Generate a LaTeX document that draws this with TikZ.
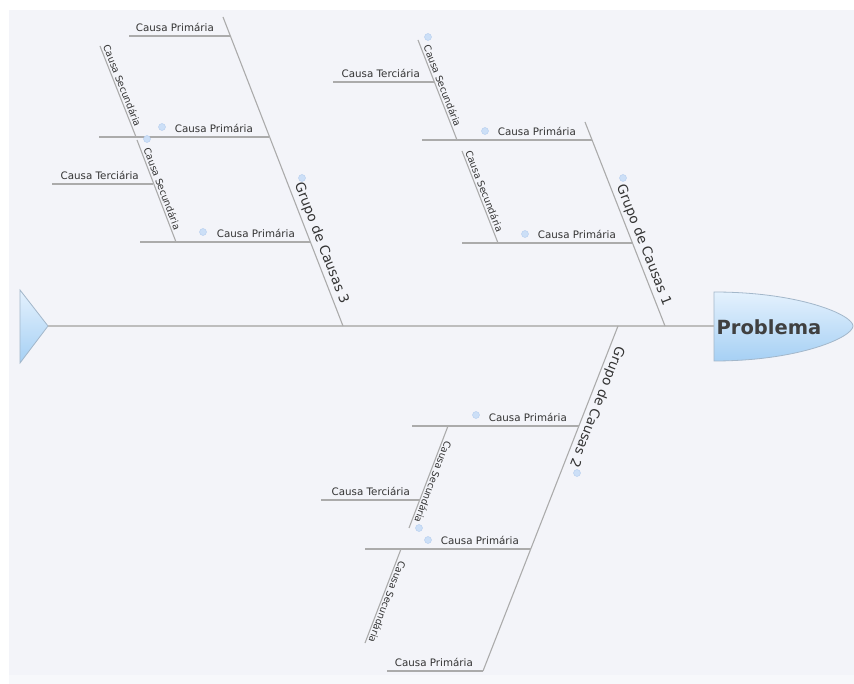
\documentclass[tikz,border=0pt]{standalone}
\usepackage{fontspec}
\setmainfont{DejaVu Sans}
\definecolor{bgc}{HTML}{F3F4F9}
\definecolor{bgstrip}{HTML}{F7F8FB}
\definecolor{linegray}{HTML}{ABABAB}
\definecolor{spinegray}{HTML}{BDBDBD}
\definecolor{txt}{HTML}{333333}
\definecolor{dotfill}{HTML}{CCDFF7}
\definecolor{dotdraw}{HTML}{B4CDEE}
\definecolor{probtop}{HTML}{E4F1FD}
\definecolor{probbot}{HTML}{A6D0F4}
\definecolor{probedge}{HTML}{A3B7CA}
\definecolor{probtxt}{HTML}{404040}
\begin{document}
\begin{tikzpicture}[x=1pt,y=-1pt,
  bone/.style={draw=linegray, line width=1.1pt},
  lbl/.style={font=\fontsize{10.3}{12}\selectfont, text=txt, inner sep=0pt},
  seclbl/.style={font=\fontsize{9.6}{11}\selectfont, text=txt, inner sep=1.8pt},
  grp/.style={font=\fontsize{13.5}{15}\selectfont, text=txt, inner sep=2.5pt},
  bubble/.style={circle, minimum size=7pt, inner sep=0pt, fill=dotfill, draw=dotdraw, line width=0.4pt}]
\useasboundingbox (0,0) rectangle (854,684);
\fill[white] (0,0) rectangle (854,684);
\fill[bgc] (9,10) rectangle (854,675);
\fill[bgstrip] (9,675) rectangle (854,684);

% tail and head
\shadedraw[top color=probtop, bottom color=probbot, draw=probedge, line width=0.8pt]
  (20,290) -- (48,326) -- (20,363) -- cycle;
\coordinate (tail) at (48,326);
\shadedraw[top color=probtop, bottom color=probbot, draw=probedge, line width=0.8pt]
  (714,292) .. controls (800,292) and (853,315) .. (853,326)
  .. controls (853,337) and (800,361) .. (714,361) -- cycle;
\coordinate (head) at (714,326);
\node[font=\fontsize{19.5}{22}\selectfont\bfseries, text=probtxt, inner sep=0pt] (prob) at (769,327) {Problema};
\draw[draw=spinegray, line width=1.1pt] (tail) -- (head);

% ---------- Grupo 1 ----------
\coordinate (g1t) at (585,122);
\coordinate (g1b) at (665,326);
\draw[bone] (g1t) -- (g1b) node[pos=0.62, sloped, above, grp] (g1l) {Grupo de Causas 1};
\node[bubble] (g1d) at (623,178) {};

\coordinate (p1aL) at (422,140); \coordinate (p1aR) at (592,140);
\draw[bone] (p1aL) -- (p1aR);
\node[lbl, anchor=base east] (p1al) at (576,135.5) {Causa Primária};
\node[bubble] (p1ad) at (485,131) {};

\coordinate (p1bL) at (462,243); \coordinate (p1bR) at (632,243);
\draw[bone] (p1bL) -- (p1bR);
\node[lbl, anchor=base east] (p1bl) at (616,238.5) {Causa Primária};
\node[bubble] (p1bd) at (525,234) {};

\coordinate (s1aT) at (418,40); \coordinate (s1aB) at (457,140);
\draw[bone] (s1aT) -- (s1aB) node[pos=0.48, sloped, above, seclbl] (s1al) {Causa Secundária};
\node[bubble] (s1ad) at (428,37) {};

\coordinate (t1L) at (333,82); \coordinate (t1R) at (434,82);
\draw[bone] (t1L) -- (t1R);
\node[lbl, anchor=base east] (t1l) at (420,77.5) {Causa Terciária};

\coordinate (s1bT) at (462,151); \coordinate (s1bB) at (498,243);
\draw[bone] (s1bT) -- (s1bB) node[pos=0.46, sloped, above, seclbl] (s1bl) {Causa Secundária};

% ---------- Grupo 3 ----------
\coordinate (g3t) at (223,17);
\coordinate (g3b) at (343,326);
\draw[bone] (g3t) -- (g3b) node[pos=0.744, sloped, above, grp] (g3l) {Grupo de Causas 3};
\node[bubble] (g3d) at (302,178) {};

\coordinate (p3aL) at (129,36); \coordinate (p3aR) at (230,36);
\draw[bone] (p3aL) -- (p3aR);
\node[lbl, anchor=base east] (p3al) at (214,31.5) {Causa Primária};

\coordinate (p3bL) at (99,137); \coordinate (p3bR) at (269,137);
\draw[bone] (p3bL) -- (p3bR);
\node[lbl, anchor=base east] (p3bl) at (253,132.5) {Causa Primária};
\node[bubble] (p3bd) at (162,127) {};

\coordinate (p3cL) at (140,242); \coordinate (p3cR) at (310,242);
\draw[bone] (p3cL) -- (p3cR);
\node[lbl, anchor=base east] (p3cl) at (295,237.5) {Causa Primária};
\node[bubble] (p3cd) at (203,232) {};

\coordinate (s3aT) at (100,46); \coordinate (s3aB) at (136,137);
\draw[bone] (s3aT) -- (s3aB) node[pos=0.46, sloped, above, seclbl] (s3al) {Causa Secundária};

\coordinate (s3bT) at (137,140); \coordinate (s3bB) at (176,242);
\draw[bone] (s3bT) -- (s3bB) node[pos=0.5, sloped, above, seclbl] (s3bl) {Causa Secundária};
\node[bubble] (s3bd) at (147,139) {};

\coordinate (t3L) at (52,184); \coordinate (t3R) at (153,184);
\draw[bone] (t3L) -- (t3R);
\node[lbl, anchor=base east] (t3l) at (139,179.5) {Causa Terciária};

% ---------- Grupo 2 ----------
\coordinate (g2t) at (618,326);
\coordinate (g2b) at (483,671);
\draw[bone] (g2t) -- (g2b) node[pos=0.224, sloped, allow upside down, above, grp] (g2l) {Grupo de Causas 2};
\node[bubble] (g2d) at (577,473) {};

\coordinate (p2aL) at (412,426); \coordinate (p2aR) at (579,426);
\draw[bone] (p2aL) -- (p2aR);
\node[lbl, anchor=base east] (p2al) at (567,421.5) {Causa Primária};
\node[bubble] (p2ad) at (476,415) {};

\coordinate (p2bL) at (365,549); \coordinate (p2bR) at (531,549);
\draw[bone] (p2bL) -- (p2bR);
\node[lbl, anchor=base east] (p2bl) at (519,544.5) {Causa Primária};
\node[bubble] (p2bd) at (428,540) {};

\coordinate (p2cL) at (387,671); \coordinate (p2cR) at (483,671);
\draw[bone] (p2cL) -- (p2cR);
\node[lbl, anchor=base east] (p2cl) at (473,666.5) {Causa Primária};

\coordinate (s2aT) at (448,426); \coordinate (s2aB) at (409,528);
\draw[bone] (s2aT) -- (s2aB) node[pos=0.53, sloped, allow upside down, above, seclbl] (s2al) {Causa Secundária};
\node[bubble] (s2ad) at (419,528) {};

\coordinate (t2L) at (321,500); \coordinate (t2R) at (420,500);
\draw[bone] (t2L) -- (t2R);
\node[lbl, anchor=base east] (t2l) at (410,495.5) {Causa Terciária};

\coordinate (s2bT) at (401,549); \coordinate (s2bB) at (365,643);
\draw[bone] (s2bT) -- (s2bB) node[pos=0.54, sloped, allow upside down, above, seclbl] (s2bl) {Causa Secundária};
\end{tikzpicture}
\end{document}
